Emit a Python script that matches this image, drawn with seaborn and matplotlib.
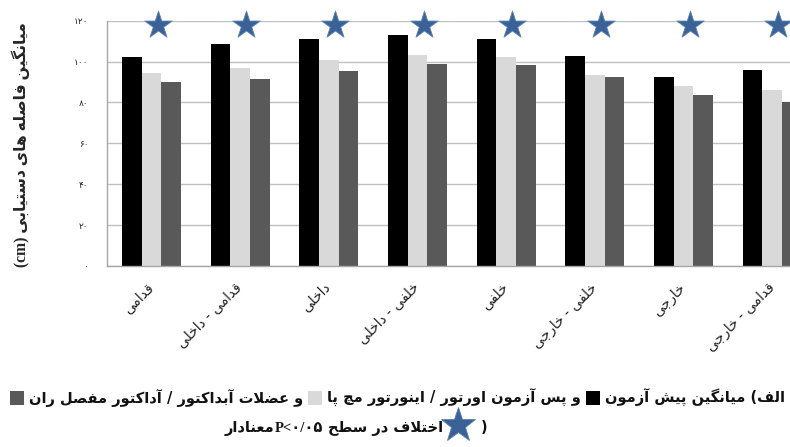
import matplotlib
matplotlib.use("Agg")
import matplotlib.pyplot as plt
from matplotlib.patches import Rectangle
import numpy as np
import pandas as pd
import seaborn as sns

# ---------------- data ----------------
categories = ['قدامی', 'قدامی - داخلی', 'داخلی', 'خلفی - داخلی',
              'خلفی', 'خلفی - خارجی', 'خارجی', 'قدامی - خارجی']
phases = ['pre', 'post_ankle', 'post_hip']
pre_test = [102.0, 108.4, 111.2, 112.8, 111.2, 102.5, 92.3, 95.7]
post_ankle = [94.5, 97.0, 100.7, 103.2, 102.0, 93.4, 87.9, 86.2]
post_hip = [89.8, 91.6, 95.4, 98.8, 98.1, 92.3, 83.5, 80.3]
significant = [True, True, True, True, True, True, True, True]
yticks = [0, 20, 40, 60, 80, 100, 120]
ytick_labels = ['۰', '۲۰', '۴۰', '۶۰', '۸۰', '۱۰۰', '۱۲۰']
ylabel_fa = 'میانگین فاصله های دستیابی'
ylabel_unit = '(cm)'
legend_pieces = ['الف) میانگین پیش آزمون',
                 'و پس آزمون اورتور / اینورتور مچ پا',
                 'و عضلات آبداکتور / آداکتور مفصل ران']
note_words = 'اختلاف در سطح'
note_p = 'P<۰/۰۵'
note_end = 'معنادار'

colors = ['#000000', '#D9D9D9', '#595959']
star_color = '#3B6296'

# ---------------- minimal Arabic/Persian shaping ----------------
_J = {}
for ch, base, n in [('آ', 0xFE81, 2), ('ا', 0xFE8D, 2), ('ب', 0xFE8F, 4), ('ت', 0xFE95, 4),
                    ('ث', 0xFE99, 4), ('ج', 0xFE9D, 4), ('ح', 0xFEA1, 4), ('خ', 0xFEA5, 4),
                    ('د', 0xFEA9, 2), ('ذ', 0xFEAB, 2), ('ر', 0xFEAD, 2), ('ز', 0xFEAF, 2),
                    ('س', 0xFEB1, 4), ('ش', 0xFEB5, 4), ('ص', 0xFEB9, 4), ('ض', 0xFEBD, 4),
                    ('ط', 0xFEC1, 4), ('ظ', 0xFEC5, 4), ('ع', 0xFEC9, 4), ('غ', 0xFECD, 4),
                    ('ف', 0xFED1, 4), ('ق', 0xFED5, 4), ('ل', 0xFEDD, 4), ('م', 0xFEE1, 4),
                    ('ن', 0xFEE5, 4), ('ه', 0xFEE9, 4), ('و', 0xFEED, 2), ('ی', 0xFBFC, 4),
                    ('پ', 0xFB56, 4), ('چ', 0xFB7A, 4), ('ژ', 0xFB8A, 2), ('ک', 0xFB8E, 4),
                    ('گ', 0xFB92, 4)]:
    _J[ch] = (base, n)


def _shape(s):
    out = []
    i = 0
    while i < len(s):
        c = s[i]
        prev = s[i - 1] if i > 0 else None
        nxt = s[i + 1] if i + 1 < len(s) else None
        cp = prev is not None and prev in _J and _J[prev][1] == 4
        if c == 'ل' and nxt in ('ا', 'آ'):
            lig = {'ا': (0xFEFB, 0xFEFC), 'آ': (0xFEF5, 0xFEF6)}[nxt]
            out.append(chr(lig[1] if cp else lig[0]))
            i += 2
            continue
        if c in _J:
            base, n = _J[c]
            if n == 4:
                cn = nxt is not None and nxt in _J
                code = base + (3 if (cp and cn) else 1 if cp else 2 if cn else 0)
            else:
                code = base + (1 if cp else 0)
            out.append(chr(code))
        else:
            out.append(c)
        i += 1
    return out


_MIR = {'(': ')', ')': '('}


def rtl(s):
    return ''.join(_MIR.get(c, c) for c in reversed(_shape(s)))


# ---------------- figure ----------------
W, H = 790, 447
sns.set_style('white')
plt.rcParams['font.family'] = ['DejaVu Sans']
fig = plt.figure(figsize=(W / 100, H / 100), dpi=100)


def fx(x):
    return x / W


def fy(y):
    return 1 - y / H


ax_left, ax_right, ax_top, ax_bottom = 107, 816.5, 20.7, 266
ax = fig.add_axes([fx(ax_left), fy(ax_bottom), (ax_right - ax_left) / W, (ax_bottom - ax_top) / H])

df = pd.DataFrame({
    'region': categories * 3,
    'phase': [phases[0]] * 8 + [phases[1]] * 8 + [phases[2]] * 8,
    'value': pre_test + post_ankle + post_hip,
})
sns.barplot(data=df, x='region', y='value', hue='phase', order=categories,
            hue_order=phases, palette=colors, width=0.665, gap=0, saturation=1,
            errorbar=None, legend=False, linewidth=0, ax=ax)

ax.set_xlim(-0.5, len(categories) - 0.5)
ax.set_ylim(0, 120)
ax.set_yticks(yticks)
ax.set_yticklabels(ytick_labels, fontsize=6.5, color='#222222')
ax.yaxis.grid(True, color='#C0C0C0', lw=1)
ax.set_axisbelow(True)
for s in ['top', 'right']:
    ax.spines[s].set_visible(False)
for s in ['left', 'bottom']:
    ax.spines[s].set_color('#A6A6A6')
    ax.spines[s].set_linewidth(1)
ax.tick_params(axis='y', direction='out', length=3.5, color='#A6A6A6', pad=10)

ax.set_xticks(np.arange(len(categories)))
ax.set_xticks(np.arange(len(categories) + 1) - 0.5, minor=True)
ax.tick_params(axis='x', which='minor', direction='out', length=3.5, color='#A6A6A6')
ax.tick_params(axis='x', which='major', length=0, pad=14)
ax.set_xticklabels([rtl(c) for c in categories], rotation=45, ha='right',
                   va='center', rotation_mode='anchor', fontsize=10, color='#222222')
ax.set_xlabel('')
ax.set_ylabel('')

# significance stars
sig_x = [i + 0.07 for i, s in enumerate(significant) if s]
ax.scatter(sig_x, [118.0] * len(sig_x), marker='*', s=430, color=star_color,
           edgecolors='#5A7FB0', linewidths=0.6, zorder=5, clip_on=False)

fig.canvas.draw()
rend = fig.canvas.get_renderer()


def wpx(t):
    return t.get_window_extent(renderer=rend).width


# y label (rotated)
yl_text = ylabel_unit + ' ' + rtl(ylabel_fa)
yl = fig.text(fx(21), fy(145), yl_text, rotation=90, ha='center', va='center',
              fontsize=12, fontweight='bold', family=['Liberation Serif', 'DejaVu Sans'])
h = yl.get_window_extent(renderer=rend).height
yl.set_fontsize(12 * 245 / h)

# legend line 1
base_fs = 11
sq = 14
gap = 5
y1 = 398
texts = [fig.text(0, fy(y1), rtl(p), ha='right', va='center', fontsize=base_fs,
                  fontweight='bold', color='#111111') for p in legend_pieces]
tw = sum(wpx(t) for t in texts)
avail = 780 - 3 * (sq + 2 * gap)
fs = base_fs * avail / tw
for t in texts:
    t.set_fontsize(fs)
x = 785
for t, c in zip(texts, colors):
    t.set_x(fx(x))
    x -= wpx(t) + gap
    fig.patches.append(Rectangle((fx(x - sq), fy(y1 + sq / 2)), sq / W, sq / H,
                                 transform=fig.transFigure, facecolor=c,
                                 edgecolor='none'))
    x -= sq + gap

# legend line 2
y2 = 428
fig.text(fx(484), fy(y2), ')', ha='center', va='center', fontsize=fs,
         fontweight='bold', color='#111111')
fig.lines.append(plt.Line2D([fx(458)], [fy(y2 - 3)], marker='*', markersize=26,
                            color=star_color, markeredgecolor='#5A7FB0', mew=0.6,
                            transform=fig.transFigure))
t1 = fig.text(fx(443), fy(y2), rtl(note_words), ha='right', va='center', fontsize=fs,
              fontweight='bold', color='#111111')
x = 443 - wpx(t1) - 5
t2 = fig.text(fx(x), fy(y2), note_p, ha='right', va='center', fontsize=fs,
              fontweight='bold', color='#111111', family=['Liberation Serif', 'DejaVu Sans'])
x -= wpx(t2)
fig.text(fx(x), fy(y2), rtl(note_end), ha='right', va='center', fontsize=fs,
         fontweight='bold', color='#111111')

fig.savefig('out.png', dpi=100)
